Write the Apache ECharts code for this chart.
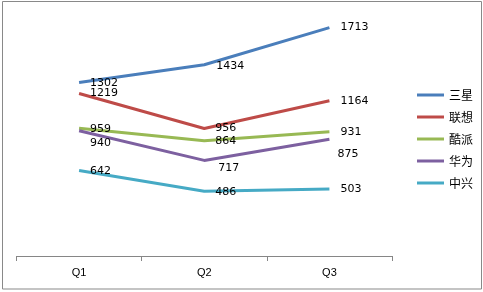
<!DOCTYPE html>
<html>
<head>
<meta charset="utf-8">
<script src="https://cdn.jsdelivr.net/npm/echarts@6/dist/echarts.min.js"></script>
<style>
html,body{margin:0;padding:0;background:#fff;}
#c{width:483px;height:292px;}
</style>
</head>
<body>
<div id="c"></div>
<script>
var categories = ['Q1', 'Q2', 'Q3'];
var seriesNames = ['三星', '联想', '酷派', '华为', '中兴'];
var samsung = [1302, 1434, 1713];
var lenovo = [1219, 956, 1164];
var coolpad = [959, 864, 931];
var huawei = [940, 717, 875];
var zte = [642, 486, 503];

var seriesValues = [samsung, lenovo, coolpad, huawei, zte];
var colors = ['#4A7EBB', '#BE4B48', '#98B954', '#7D60A0', '#46AAC5'];
// label nudges in pixels (style, not data)
var labelOffsets = [
  [[0,1],[1,1],[0,0]],
  [[0,0],[0,0],[0,0]],
  [[0,1],[0,0],[0,0]],
  [[0,12],[3,8],[-3,15]],
  [[0,1],[0,1],[0,0]]
];

var chart = echarts.init(document.getElementById('c'), null, {renderer: 'canvas'});
var series = seriesNames.map(function (name, i) {
  return {
    name: name,
    type: 'line',
    data: seriesValues[i],
    symbol: 'circle',
    symbolSize: 0.01,
    showSymbol: true,
    showAllSymbol: true,
    lineStyle: {color: colors[i], width: 3},
    itemStyle: {color: colors[i]},
    label: {
      show: true,
      position: 'right',
      distance: 11,
      fontFamily: 'DejaVu Sans',
      fontSize: 11,
      color: '#000',
      opacity: 1
    },
    labelLayout: function (p) {
      var o = labelOffsets[p.seriesIndex][p.dataIndex];
      return {dx: o[0], dy: o[1], hideOverlap: false};
    },
    emphasis: {disabled: true},
    animation: false
  };
});

chart.setOption({
  animation: false,
  backgroundColor: '#fff',
  grid: {left: 16.5, right: 91, top: 16, bottom: 36},
  legend: {
    orient: 'vertical',
    left: 412,
    top: 84,
    itemWidth: 27,
    itemHeight: 14,
    itemGap: 10,
    icon: 'path://M0,0 L27,0 L27,3 L0,3 Z',
    textStyle: {fontFamily: 'Noto Sans CJK SC', fontSize: 12, color: '#000'},
    data: seriesNames
  },
  xAxis: {
    type: 'category',
    data: categories,
    boundaryGap: true,
    axisLine: {lineStyle: {color: '#868686', width: 1}},
    axisTick: {show: true, length: 5, lineStyle: {color: '#868686'}},
    axisLabel: {margin: 11, fontFamily: 'Liberation Sans', fontSize: 11, color: '#000'}
  },
  yAxis: {
    type: 'value',
    min: 0,
    max: 1800,
    show: false,
    splitLine: {show: false}
  },
  graphic: [{
    type: 'rect',
    shape: {x: 2.5, y: 1.5, width: 479, height: 287.5},
    style: {fill: 'none', stroke: '#898989', lineWidth: 1},
    silent: true
  }],
  series: series
});
</script>
</body>
</html>
